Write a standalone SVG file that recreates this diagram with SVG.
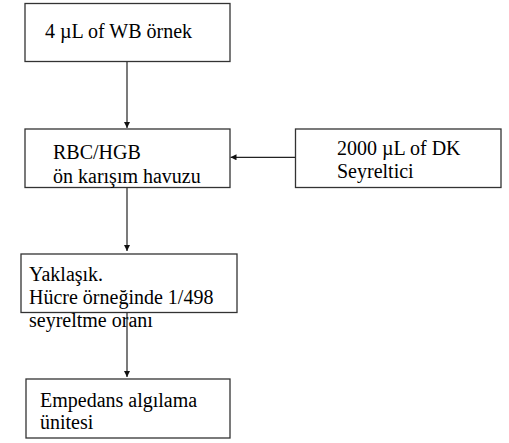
<svg xmlns="http://www.w3.org/2000/svg" width="509" height="443" viewBox="0 0 509 443">
  <style>
    .box { fill: #ffffff; stroke: #333333; stroke-width: 1.3; }
    .lbl { font-family: 'Liberation Serif', Tinos, 'Times New Roman', Times, 'DejaVu Serif', serif; font-size: 20px; fill: #000000; }
    .link { stroke: #222222; stroke-width: 1.2; fill: none; marker-end: url(#head); }
  </style>
  <defs>
    <marker id="head" viewBox="0 0 10 10" refX="10" refY="5" markerUnits="userSpaceOnUse" markerWidth="6" markerHeight="6" orient="auto">
      <path d="M0,0 L10,5 L0,10 Z" fill="#111111"/>
    </marker>
  </defs>

  <rect width="509" height="443" fill="#ffffff"/>

  <!-- connectors -->
  <g id="connectors">
    <line class="link" x1="127" y1="62" x2="127" y2="128"/>
    <line class="link" x1="295.5" y1="157.3" x2="230.5" y2="157.3"/>
    <line class="link" x1="127" y1="188" x2="127" y2="251"/>
    <line class="link" x1="127" y1="312.5" x2="127" y2="377"/>
  </g>

  <g id="sample">
    <rect class="box" x="25" y="3.5" width="205" height="58"/>
    <text class="lbl" x="45" y="38">4 µL of WB örnek</text>
  </g>

  <g id="premix">
    <rect class="box" x="25" y="129" width="205" height="58.5"/>
    <text class="lbl" x="53" y="159">RBC/HGB</text>
    <text class="lbl" x="53" y="183">ön karışım havuzu</text>
  </g>

  <g id="diluent">
    <rect class="box" x="295.5" y="129" width="205.5" height="58.5"/>
    <text class="lbl" x="337" y="155">2000 µL of DK</text>
    <text class="lbl" x="337" y="178">Seyreltici</text>
  </g>

  <g id="ratio">
    <rect class="box" x="21" y="254" width="216" height="58.5"/>
    <text class="lbl" x="29" y="281">Yaklaşık.</text>
    <text class="lbl" x="29" y="304">Hücre örneğinde 1/498</text>
    <text class="lbl" x="29" y="327">seyreltme oranı</text>
  </g>

  <g id="impedance">
    <rect class="box" x="26" y="379" width="204" height="59"/>
    <text class="lbl" x="40" y="407">Empedans algılama</text>
    <text class="lbl" x="40" y="429">ünitesi</text>
  </g>
</svg>
